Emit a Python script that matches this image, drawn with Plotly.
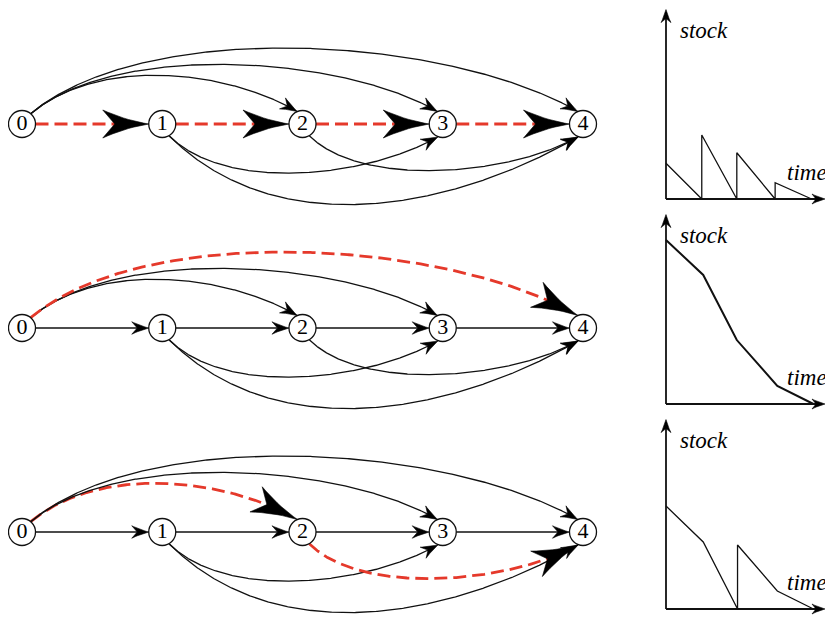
import numpy as np
import plotly.graph_objects as go

# the page body keeps its default 8px margin, so the figure is sized to fit
PAGE_W, PAGE_H, BODY = 833, 617, 8
FIG_W, FIG_H = PAGE_W - BODY, PAGE_H - BODY

# ---------------- data ----------------
node_ids = [0, 1, 2, 3, 4]
node_labels = ["0", "1", "2", "3", "4"]
edge_src = [0, 1, 2, 3, 0, 0, 0, 1, 1, 2]
edge_dst = [1, 2, 3, 4, 2, 3, 4, 3, 4, 4]
highlight_paths = [[0, 1, 2, 3, 4], [0, 4], [0, 2, 4]]

stock_time = [
    [0, 0.98, 0.98, 1.94, 1.94, 2.99, 2.99, 3.99],
    [0, 1.02, 1.94, 3.05, 4.04],
    [0, 1.02, 1.96, 1.96, 3.05, 4.04],
]
stock_level = [
    [21.8, 0, 39.0, 0, 28.2, 0, 9.9, 0],
    [100, 78.7, 39.0, 11.0, 0],
    [62.8, 40.9, 0, 39.0, 11.0, 0],
]
axis_titles = ["stock", "time"]

# ---------------- styles / layout constants ----------------
RED = "#E5392B"
BLACK = "#111111"
SERIF = "Liberation Serif"
X0, DX = 22.0, 140.25      # page px of node 0 and spacing
Y0, DY = 124.0, 204.0      # page px of first row and row spacing
R = 13.5                   # node radius (px)
BEND = {(0, 2): 0.31, (0, 3): 0.267, (0, 4): 0.268,
        (1, 3): 0.29, (1, 4): 0.357, (2, 4): 0.27}

# stock panels
S_OX, S_OY, S_DY = 666.0, 199.0, 205.0
S_SX, S_SY = 36.5, 1.64
S_XMAX, S_YMAX = 4.356, 115.5


def graph_to_data(p):
    p = np.atleast_2d(p)
    return (p[:, 0] - X0) / DX, (p[:, 1] - Y0) / DY


def stock_to_px(k, x, y):
    return np.array([S_OX + S_SX * x, S_OY + S_DY * k - S_SY * y])


def stock_to_data(k, p):
    p = np.atleast_2d(p)
    return (p[:, 0] - S_OX) / S_SX, (S_OY + S_DY * k - p[:, 1]) / S_SY


def arrow_poly(tip, u, L, Wd, notch, bow=0.1):
    u = u / np.linalg.norm(u)
    n = np.array([-u[1], u[0]])
    B1 = tip - L * u + Wd / 2 * n
    B2 = tip - L * u - Wd / 2 * n
    N = tip - (L - notch) * u

    def q(a, b, c, m=10):
        t = np.linspace(0, 1, m)[:, None]
        return (1 - t) ** 2 * a + 2 * (1 - t) * t * c + t ** 2 * b

    c1 = (tip + B1) / 2 - bow * Wd * n
    c2 = (tip + B2) / 2 + bow * Wd * n
    return np.vstack([q(tip, B1, c1), N[None, :], q(B2, tip, c2), tip[None, :]])


def node_px(i, row):
    return np.array([X0 + DX * i, Y0 + DY * row])


def edge_curve(i, j, row):
    c0, c1 = node_px(i, row), node_px(j, row)
    if j - i == 1:
        S = c0 + np.array([R, 0.0])
        E = c1 - np.array([R, 0.0])
        t = np.linspace(0, 1, 100)[:, None]
        return (1 - t) * S + t * E
    d = np.linalg.norm(c1 - c0)
    k = BEND[(i, j)]
    s = -1.0 if i == 0 else 1.0   # -1 above, +1 below
    if s < 0:
        a_s, t_s, a_e, t_e = 50, 40, 112, 30
    else:
        a_s, t_s, a_e, t_e = 60, 45, 110, 30
    r = np.radians
    S = c0 + R * np.array([np.cos(r(a_s)), s * np.sin(r(a_s))])
    P1 = S + k * d * np.array([np.cos(r(t_s)), s * np.sin(r(t_s))])
    E = c1 + R * np.array([np.cos(r(a_e)), s * np.sin(r(a_e))])
    P2 = E + k * d * np.array([-np.cos(r(t_e)), s * np.sin(r(t_e))])
    t = np.linspace(0, 1, 400)[:, None]
    return ((1 - t) ** 3 * S + 3 * (1 - t) ** 2 * t * P1
            + 3 * (1 - t) * t ** 2 * P2 + t ** 3 * E)


def point_back(curve, dist):
    tip = curve[-1]
    dd = np.linalg.norm(curve - tip, axis=1)
    idx = np.where(dd >= dist)[0]
    return idx[-1] if len(idx) else 0


fig = go.Figure()
arrow_traces = []

for row, path in enumerate(highlight_paths):
    hl = set(zip(path[:-1], path[1:]))
    for i, j in zip(edge_src, edge_dst):
        curve = edge_curve(i, j, row)
        red = (i, j) in hl
        if red:
            L, Wd, notch = 46.0, 28.0, 12.0
        else:
            L, Wd, notch = 17.0, 12.5, 5.5
        tip = curve[-1]
        k_dir = point_back(curve, 0.7 * L)
        u = tip - curve[k_dir]
        cut = point_back(curve, L - notch - 1.0)
        xs, ys = graph_to_data(curve[:cut + 1])
        fig.add_trace(go.Scatter(
            x=xs, y=ys, mode="lines", hoverinfo="skip",
            line=dict(color=RED if red else BLACK, width=2.8 if red else 1.3,
                      dash="13px,6px" if red else "solid"),
            xaxis="x", yaxis="y"))
        poly = arrow_poly(tip, u, L, Wd, notch, bow=0.12 if red else 0.08)
        px_, py_ = graph_to_data(poly)
        arrow_traces.append(go.Scatter(
            x=px_, y=py_, mode="lines", fill="toself", fillcolor="black",
            line=dict(color="black", width=0.6), hoverinfo="skip",
            xaxis="x", yaxis="y"))

# nodes
for row in range(len(highlight_paths)):
    fig.add_trace(go.Scatter(
        x=node_ids, y=[row] * len(node_ids), mode="markers+text",
        text=node_labels, textposition="middle center",
        textfont=dict(family=SERIF, size=22, color="black"),
        marker=dict(size=2 * R, color="white", line=dict(color=BLACK, width=1.3)),
        hoverinfo="skip", xaxis="x", yaxis="y"))

for tr in arrow_traces:
    fig.add_trace(tr)

# stock panels
annotations = []
for k in range(3):
    xa = "x%d" % (k + 2)
    ya = "y%d" % (k + 2)
    for (tx, ty) in [(S_XMAX, 0.0), (0.0, S_YMAX)]:
        fig.add_trace(go.Scatter(
            x=[0, tx * 0.97], y=[0, ty * 0.97], mode="lines",
            line=dict(color=BLACK, width=1.8), hoverinfo="skip", xaxis=xa, yaxis=ya))
        tip = stock_to_px(k, tx, ty)
        base = stock_to_px(k, 0, 0)
        poly = arrow_poly(tip, tip - base, 13.0, 10.0, 4.0, bow=0.08)
        ax_, ay_ = stock_to_data(k, poly)
        fig.add_trace(go.Scatter(
            x=ax_, y=ay_, mode="lines", fill="toself", fillcolor="black",
            line=dict(color="black", width=0.6), hoverinfo="skip", xaxis=xa, yaxis=ya))
    fig.add_trace(go.Scatter(
        x=stock_time[k], y=stock_level[k], mode="lines",
        line=dict(color=BLACK, width=2.0 if k == 1 else 1.3),
        hoverinfo="skip", xaxis=xa, yaxis=ya))
    annotations.append(dict(
        x=0.33, y=103, xref=xa, yref=ya, text="<i>%s</i>" % axis_titles[0],
        showarrow=False, xanchor="left", yanchor="middle",
        font=dict(family=SERIF, size=23, color="black")))
    annotations.append(dict(
        x=3.26, y=16, xref=xa, yref=ya, text="<i>%s</i>" % axis_titles[1],
        showarrow=False, xanchor="left", yanchor="middle",
        font=dict(family=SERIF, size=23, color="black")))

hidden = dict(visible=False, showgrid=False, zeroline=False, showticklabels=False, fixedrange=True)
layout = dict(
    width=FIG_W, height=FIG_H, margin=dict(l=0, r=0, t=0, b=0, pad=0),
    paper_bgcolor="white", plot_bgcolor="rgba(0,0,0,0)", showlegend=False,
    xaxis=dict(hidden, domain=[0, 1], range=[(BODY - X0) / DX, (PAGE_W - X0) / DX]),
    yaxis=dict(hidden, domain=[0, 1], range=[(PAGE_H - Y0) / DY, (BODY - Y0) / DY]),
    annotations=annotations,
)
for k in range(3):
    oy = S_OY + S_DY * k
    xr = [-0.3, min(S_XMAX + 0.2, (PAGE_W - 0.5 - S_OX) / S_SX)]
    yr = [-min(8.0, (PAGE_H - 0.5 - oy) / S_SY), min(S_YMAX + 4.0, (oy - BODY - 0.1) / S_SY)]
    xd = [(S_OX + S_SX * xr[0] - BODY) / FIG_W, (S_OX + S_SX * xr[1] - BODY) / FIG_W]
    yd = [1 - (oy - S_SY * yr[0] - BODY) / FIG_H, 1 - (oy - S_SY * yr[1] - BODY) / FIG_H]
    xd = [max(0.0, min(1.0, v)) for v in xd]
    yd = [max(0.0, min(1.0, v)) for v in yd]
    layout["xaxis%d" % (k + 2)] = dict(hidden, domain=xd, range=xr, anchor="y%d" % (k + 2))
    layout["yaxis%d" % (k + 2)] = dict(hidden, domain=yd, range=yr, anchor="x%d" % (k + 2))

fig.update_layout(**layout)
fig.write_html("out.html", config={"displayModeBar": False})
